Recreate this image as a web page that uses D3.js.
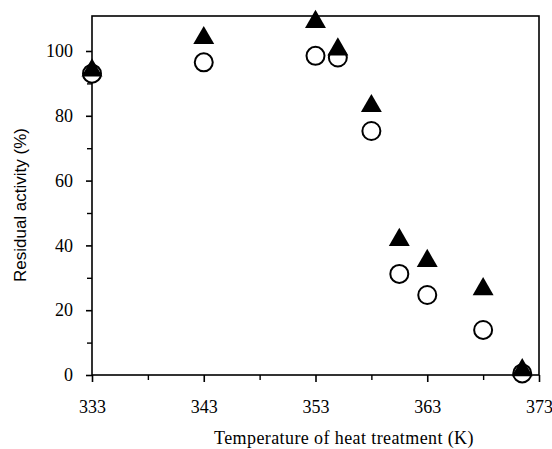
<!DOCTYPE html>
<html><head><meta charset="utf-8">
<script src="https://cdn.jsdelivr.net/npm/d3@7"></script>
<style>body{margin:0;background:#fff}</style>
</head><body>
<svg id="c" width="552" height="449"></svg>
<script>
const temps = [333, 343, 353, 355, 358, 360.5, 363, 368, 371.5];
const openCircle = [93, 96.5, 98.5, 98, 75.3, 31.2, 24.7, 13.9, 0.5];
const filledTriangle = [94, 104, 109, 100.5, 83, 41.7, 35.2, 26.5, 1.5];
const xTicks = [333, 343, 353, 363, 373];
const yTicks = [0, 20, 40, 60, 80, 100];

const svg = d3.select("#c");
const x = d3.scaleLinear().domain([333, 373]).range([92, 539]);
const y = d3.scaleLinear().domain([0, 110.8]).range([375, 16]);
const serif = "'Liberation Serif','DejaVu Serif',serif";

// frame
svg.append("rect").attr("x", 92).attr("y", 16).attr("width", 447).attr("height", 359)
  .attr("fill", "none").attr("stroke", "#000").attr("stroke-width", 1.6);

// y axis
const yAx = svg.append("g").attr("transform", "translate(92,0)")
  .call(d3.axisLeft(y).tickValues(yTicks).tickSize(6).tickPadding(13).tickFormat(d3.format("d")));
yAx.attr("font-family", null).attr("font-size", null);
yAx.select(".domain").remove();
yAx.selectAll("line").attr("stroke-width", 1.6);
yAx.selectAll("text").style("font-family", serif).style("font-size", "18px").attr("fill", "#000");
svg.append("g").attr("transform", "translate(92,0)")
  .call(d3.axisLeft(y).tickValues([10, 30, 50, 70, 90]).tickSize(5).tickFormat(""))
  .call(g => { g.select(".domain").remove(); g.selectAll("line").attr("stroke-width", 1.4); });

// x axis
const xAx = svg.append("g").attr("transform", "translate(0,375)")
  .call(d3.axisBottom(x).tickValues(xTicks).tickSize(7).tickPadding(18).tickFormat(d3.format("d")));
xAx.attr("font-family", null).attr("font-size", null);
xAx.select(".domain").remove();
xAx.selectAll("line").attr("stroke-width", 1.6);
xAx.selectAll("text").style("font-family", serif).style("font-size", "18px").attr("fill", "#000");
svg.append("g").attr("transform", "translate(0,375)")
  .call(d3.axisBottom(x).tickValues([338, 348, 358, 368]).tickSize(5).tickFormat(""))
  .call(g => { g.select(".domain").remove(); g.selectAll("line").attr("stroke-width", 1.4); });

// labels
svg.append("text").attr("x", 344).attr("y", 444).attr("text-anchor", "middle").attr("fill", "#000")
  .style("font-family", serif).style("font-size", "18px").style("letter-spacing", "0.4px")
  .text("Temperature of heat treatment (K)");
svg.append("text").attr("transform", "translate(26,205) rotate(-90)").attr("text-anchor", "middle")
  .attr("fill", "#000")
  .style("font-family", "'Liberation Sans',Arial,sans-serif").style("font-size", "17px")
  .text("Residual activity (%)");

// points
const pts = temps.map((t, i) => ({t, c: openCircle[i], tr: filledTriangle[i]}));
svg.append("g").selectAll("circle").data(pts).join("circle")
  .attr("cx", d => x(d.t)).attr("cy", d => y(d.c)).attr("r", 9)
  .attr("fill", "#fff").attr("stroke", "#000").attr("stroke-width", 2);
const tri = d3.symbol().type(d3.symbolTriangle).size(190);
svg.append("g").selectAll("path").data(pts).join("path")
  .attr("d", tri).attr("transform", d => `translate(${x(d.t)},${y(d.tr)})`).attr("fill", "#000");
</script>
</body></html>
